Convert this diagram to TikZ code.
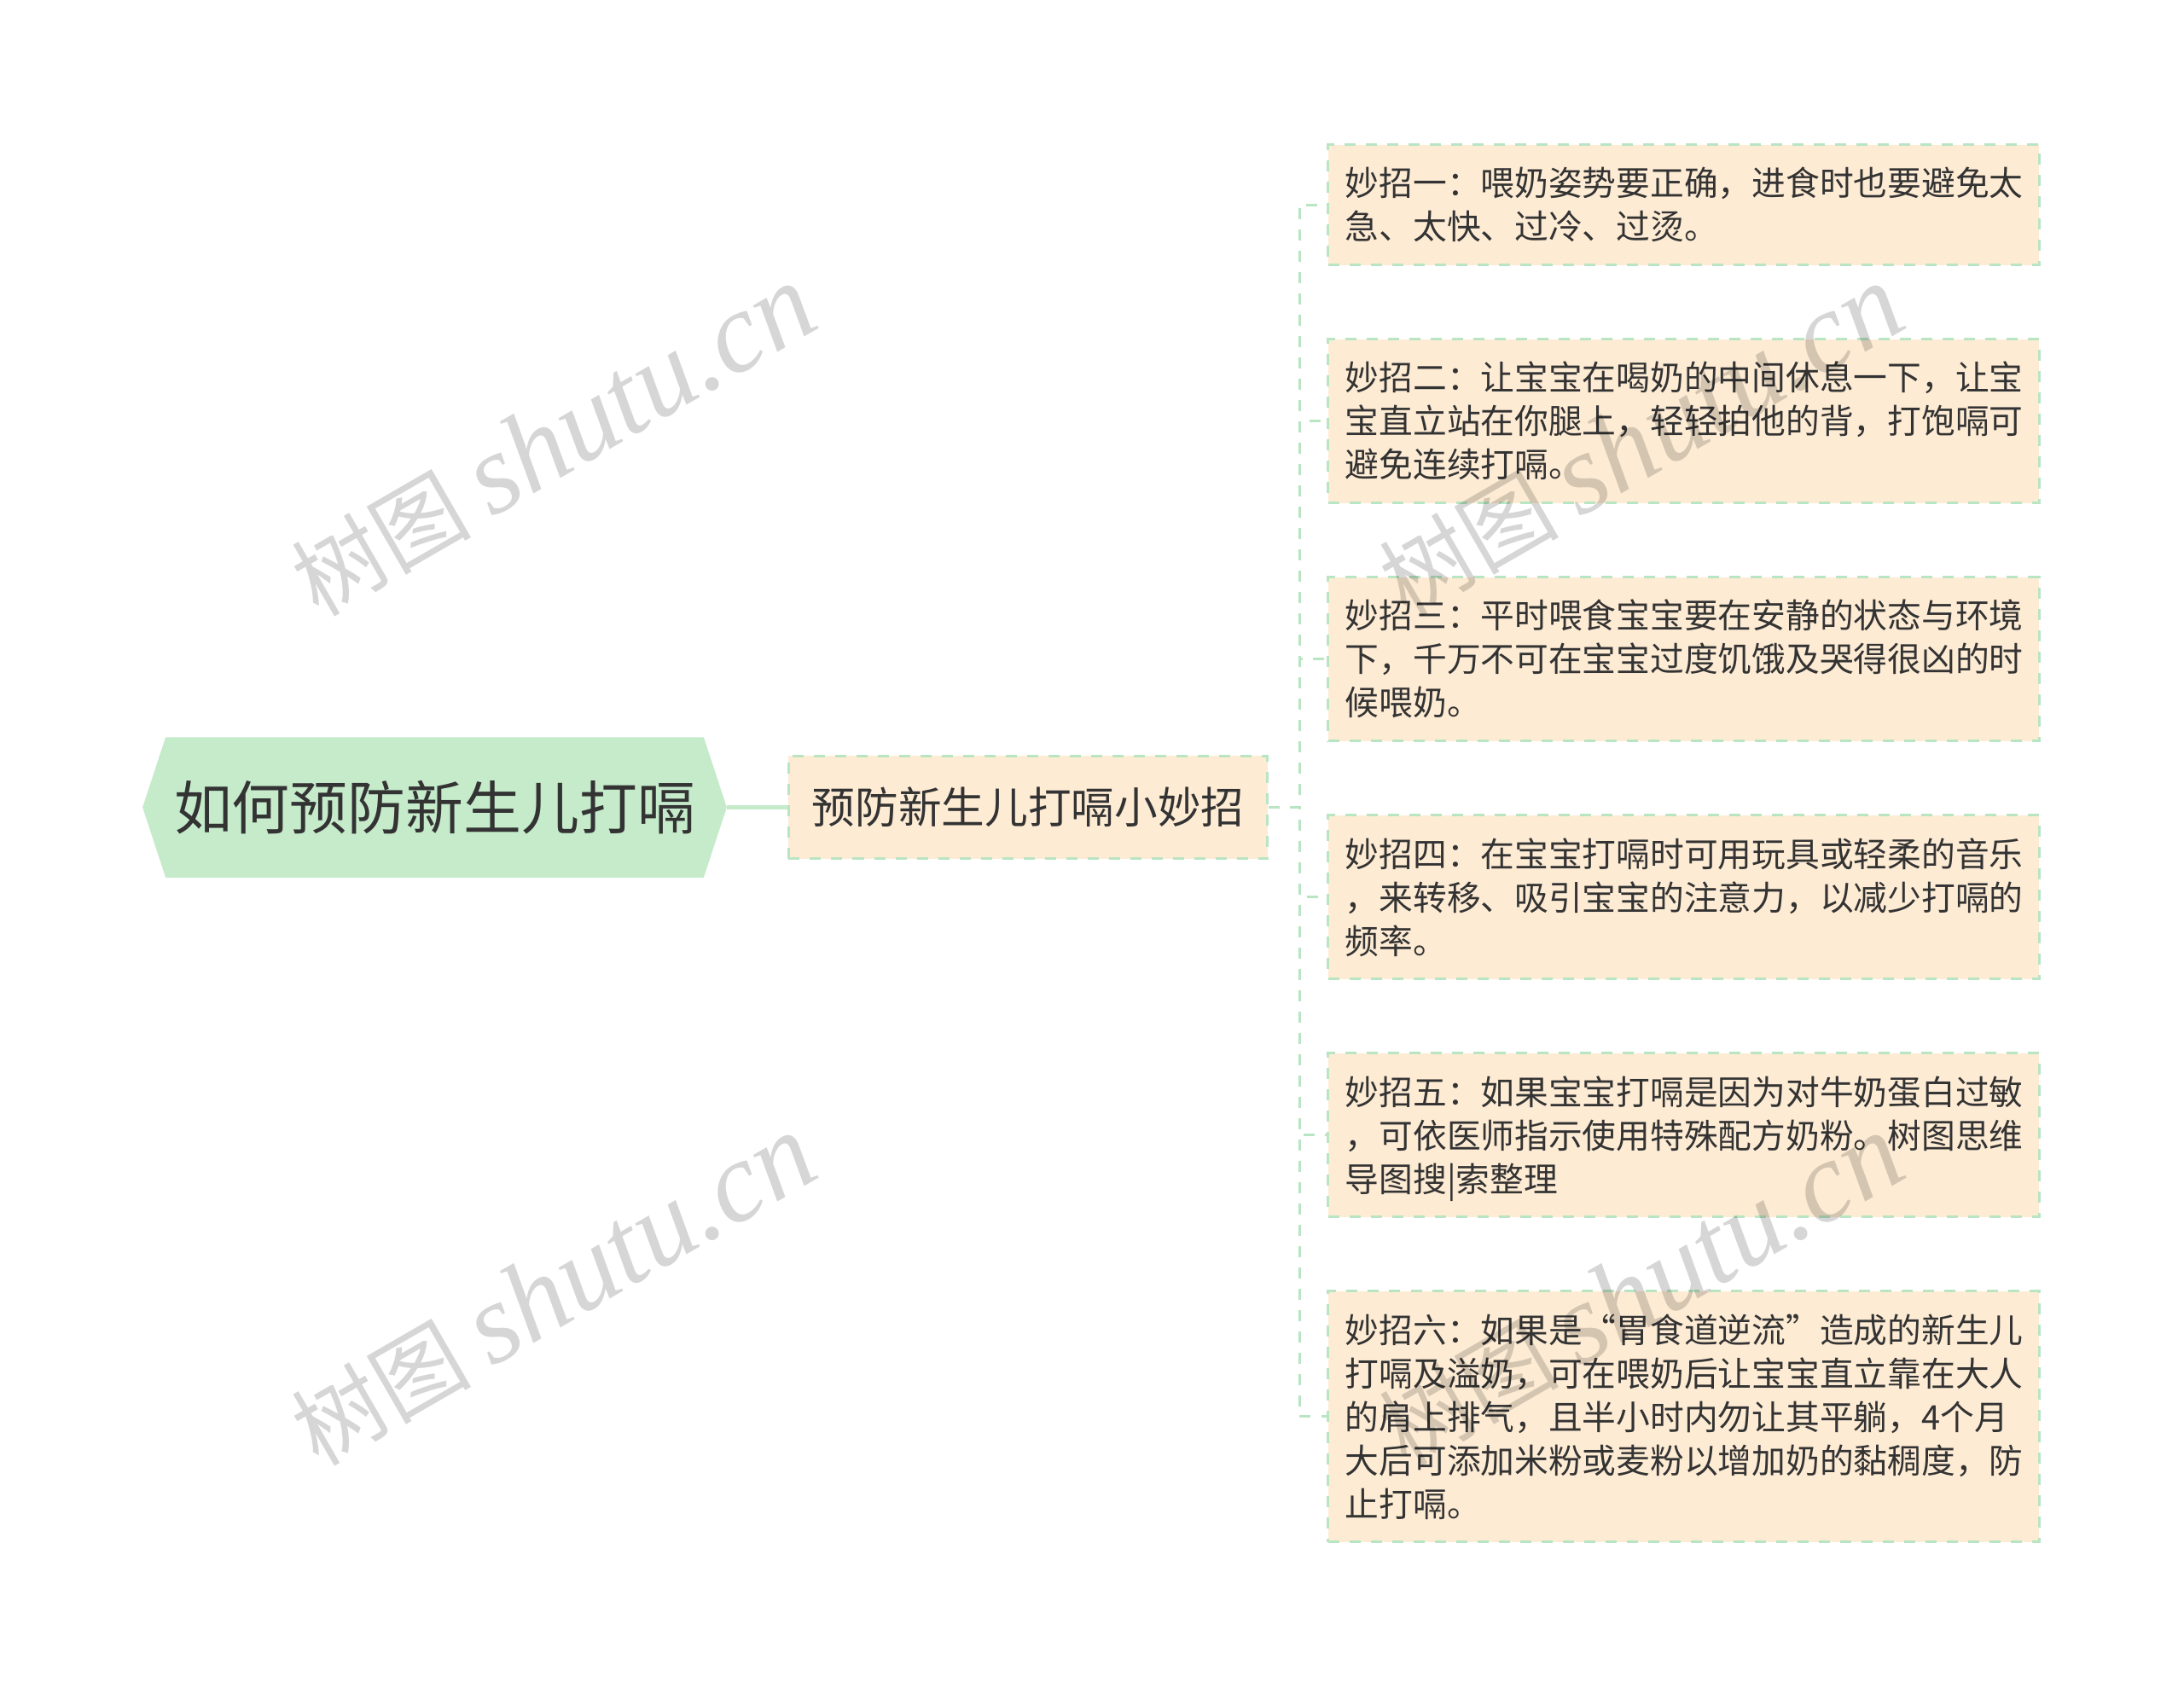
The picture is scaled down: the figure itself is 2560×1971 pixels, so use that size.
\documentclass[tikz,border=0pt]{standalone}
\usepackage{fontspec}
\setmainfont{Noto Sans CJK SC}
\newfontfamily\wmfont{Liberation Serif}
\usepackage{tikz}
\usetikzlibrary{calc,positioning,backgrounds}

\definecolor{rootgreen}{HTML}{C5EBCB}
\definecolor{tipfill}{HTML}{FDEBD4}
\definecolor{dashgreen}{HTML}{B9E5C3}
\definecolor{textgrey}{HTML}{333333}

\begin{document}
\begin{tikzpicture}[x=0.01cm,y=-0.01cm,node distance=0.84cm and 0.98cm]

\tikzset{rootnode/.style={rectangle,minimum width=6.29cm,minimum height=1.63cm,inner sep=0,text=textgrey,font=\fontsize{19.3}{23}\selectfont},
subnode/.style={rectangle,fill=tipfill,draw=dashgreen,line width=0.03cm,dash pattern=on 0.13cm off 0.12cm,minimum height=1.2cm,inner xsep=0.275cm,text=textgrey,font=\fontsize{14.4}{17}\selectfont},
tipnode/.style={rectangle,fill=tipfill,draw=dashgreen,line width=0.03cm,dash pattern=on 0.13cm off 0.12cm,text width=7.93cm,align=left,inner xsep=0.2cm,inner ysep=0.265cm,text=textgrey,font=\fontsize{11.3}{14.5}\selectfont},
rootlink/.style={draw=rootgreen,line width=0.05cm},
tiplink/.style={draw=dashgreen,line width=0.03cm,dash pattern=on 0.13cm off 0.12cm},
wmark/.style={text=black,text opacity=0.16,rotate=30}}

\useasboundingbox (0,0) rectangle (2560,1971);

% Root and sub topic
\node (root) [rootnode] at (509.5,946.5) {如何预防新生儿打嗝};
\coordinate (rootTip) at ($(root.east)+(27,0)$);
\coordinate (rootBack) at ($(root.west)+(-27,0)$);
\begin{scope}[on background layer]
\fill[rootgreen] (root.north west) -- (root.north east) -- (rootTip) -- (root.south east) -- (root.south west) -- (rootBack) -- cycle;
\end{scope}
\node (sub) [right=of root,subnode] {预防新生儿打嗝小妙招};

% Tips
\node (tip1) [tipnode] at (1973.5,240) {妙招一：喂奶姿势要正确，进食时也要避免太\\急、太快、过冷、过烫。};
\node (tip2) [below=of tip1,tipnode] {妙招二：让宝宝在喝奶的中间休息一下，让宝\\宝直立站在你腿上，轻轻拍他的背，打饱嗝可\\避免连续打嗝。};
\node (tip3) [below=of tip2,tipnode] {妙招三：平时喂食宝宝要在安静的状态与环境\\下，千万不可在宝宝过度饥饿及哭得很凶的时\\候喂奶。};
\node (tip4) [below=of tip3,tipnode] {妙招四：在宝宝打嗝时可用玩具或轻柔的音乐\\，来转移、吸引宝宝的注意力，以减少打嗝的\\频率。};
\node (tip5) [below=of tip4,tipnode] {妙招五：如果宝宝打嗝是因为对牛奶蛋白过敏\\，可依医师指示使用特殊配方奶粉。树图思维\\导图搜\smash{|}索整理};
\node (tip6) [below=of tip5,tipnode] {妙招六：如果是“胃食道逆流”造成的新生儿\\打嗝及溢奶，可在喂奶后让宝宝直立靠在大人\\的肩上排气，且半小时内勿让其平躺，4个月\\大后可添加米粉或麦粉以增加奶的黏稠度，防\\止打嗝。};

%% Edges
\draw[rootlink] (rootTip) -- (sub);
\foreach \t in {tip1,tip2,tip3,tip4,tip5,tip6}
	\draw[tiplink] (sub.east) -- ++(36,0) |- (\t.west);

% Watermarks
\foreach \n/\x/\y in {wm1/648/517, wm2/1923/517, wm3/648/1513, wm4/1923/1513}
	\node[wmark] (\n) at (\x,\y) {\fontsize{30}{30}\selectfont 树图 {\wmfont\itshape\fontsize{38}{38}\selectfont shutu.cn}};
\end{tikzpicture}
\end{document}
